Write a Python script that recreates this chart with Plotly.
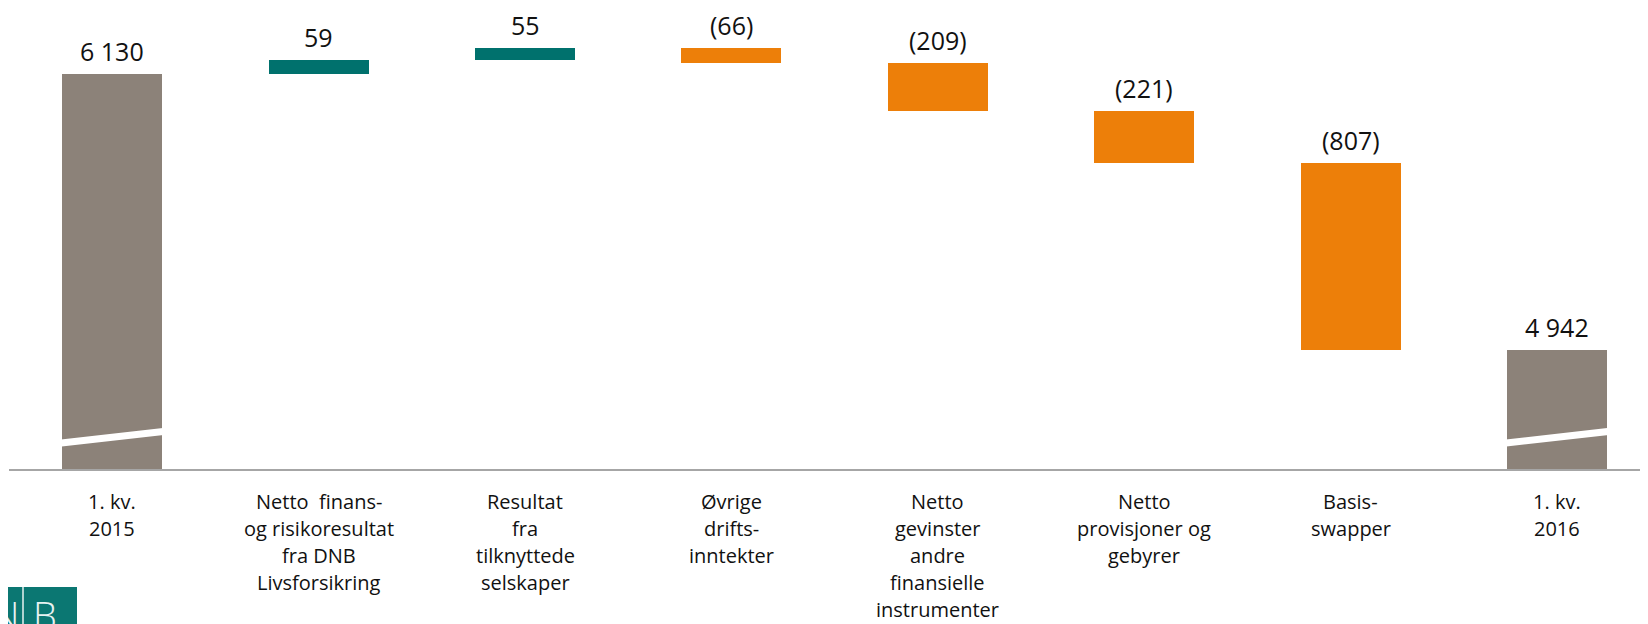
import plotly.graph_objects as go

# ---------------- data ----------------
categories = [
    "1. kv.<br>2015",
    "Netto  finans-<br>og risikoresultat<br>fra DNB<br>Livsforsikring",
    "Resultat<br>fra<br>tilknyttede<br>selskaper",
    "Øvrige<br>drifts-<br>inntekter",
    "Netto<br>gevinster<br>andre<br>finansielle<br>instrumenter",
    "Netto<br>provisjoner og<br>gebyrer",
    "Basis-<br>swapper",
    "1. kv.<br>2016",
]
start_value = 6130
changes = [59, 55, -66, -209, -221, -807]
end_value = 4942

# axis window (broken axis)
y_min = 4430
px_per_unit = 0.2323

# colours
grey = "#8C8279"
teal = "#00716D"
orange = "#ED7F09"

# ---------------- build bars ----------------
bases, heights, colors = [], [], []
bases.append(0); heights.append(start_value); colors.append(grey)
cum = start_value
for c in changes:
    bases.append(cum); heights.append(c)
    colors.append(teal if c >= 0 else orange)
    cum += c
bases.append(0); heights.append(end_value); colors.append(grey)

def fmt(v, total=False):
    if total:
        return f"{v:,}".replace(",", " ")
    return f"{v}" if v >= 0 else f"({-v})"

labels = [fmt(start_value, True)] + [fmt(c) for c in changes] + [fmt(end_value, True)]
tops = [max(b, b + h) for b, h in zip(bases, heights)]
x = list(range(len(categories)))

# ---------------- geometry (page body has an 8px margin) ----------------
OFF = 8
W, H = 1648 - OFF, 624 - OFF
ml, mt = 1, 0
plot_bottom_page = 469
ph = plot_bottom_page - OFF - mt
mb = H - mt - ph
pw = W - ml
cat_px = 206.4
y_max = y_min + ph / px_per_unit

def px(X):  # page pixel -> paper x
    return (X - OFF - ml) / pw
def py(Y):  # page pixel -> paper y
    return (plot_bottom_page - Y) / ph

fig = go.Figure()
fig.add_trace(go.Bar(
    x=x, y=heights, base=bases, width=0.485,
    marker=dict(color=colors, line=dict(width=0)),
    hoverinfo="skip", showlegend=False,
))

for xi, t, lab in zip(x, tops, labels):
    fig.add_annotation(x=xi, y=t, text=lab, showarrow=False,
                       yanchor="bottom", yshift=4,
                       font=dict(size=25, color="#111111", family="Open Sans"))

# category labels (one annotation per line for Office-like line spacing)
first_line_gap = 32
line_step = 27
for xi, cat in zip(x, categories):
    for i, line in enumerate(cat.split("<br>")):
        fig.add_annotation(x=xi, xref="x", y=0, yref="paper", text=line,
                           showarrow=False, yanchor="middle", xanchor="center",
                           yshift=-(first_line_gap + i * line_step),
                           borderpad=0,
                           font=dict(size=20, color="#111111", family="Open Sans"))

# axis-break marks on the total bars
break_lo = y_min + 112   # at left bar edge
break_hi = y_min + 161   # at right bar edge
half = 0.2425
for xi in (x[0], x[-1]):
    slope = (break_hi - break_lo) / (2 * half)
    x0, x1 = xi - 0.3, xi + 0.43
    y0 = break_lo + (x0 - (xi - half)) * slope
    y1 = break_lo + (x1 - (xi - half)) * slope
    fig.add_shape(type="line", x0=x0, x1=x1, y0=y0, y1=y1,
                  xref="x", yref="y", layer="above",
                  line=dict(color="white", width=7))

# logo fragment (bottom-left)
fig.add_shape(type="rect", xref="paper", yref="paper",
              x0=px(-5), x1=px(77), y0=py(640), y1=py(587),
              fillcolor="#0B7772", line=dict(width=0), layer="above")
fig.add_shape(type="line", xref="paper", yref="paper",
              x0=px(23), x1=px(23), y0=py(640), y1=py(587),
              line=dict(color="#E8F2F1", width=1.5), layer="above")
fig.add_annotation(xref="paper", yref="paper", x=px(21), y=py(587),
                   xanchor="right", yanchor="top", text="N", showarrow=False,
                   font=dict(size=38, color="#E8F2F1", family="Open Sans", weight=300))
fig.add_annotation(xref="paper", yref="paper", x=px(31), y=py(587),
                   xanchor="left", yanchor="top", text="B", showarrow=False,
                   font=dict(size=38, color="#E8F2F1", family="Open Sans", weight=300))

fig.update_layout(
    width=W, height=H,
    margin=dict(l=ml, r=0, t=mt, b=mb, autoexpand=False),
    paper_bgcolor="white", plot_bgcolor="white",
    bargap=0,
    font=dict(family="Open Sans", color="#111111"),
    xaxis=dict(
        range=[-0.5, -0.5 + pw / cat_px],
        tickvals=x, showticklabels=False,
        showline=True, linecolor="#A6A6A6", linewidth=2,
        ticks="", showgrid=False, zeroline=False, fixedrange=True,
        automargin=False,
    ),
    yaxis=dict(range=[y_min, y_max], visible=False, showgrid=False,
               zeroline=False, fixedrange=True),
)

fig.write_html("out.html")
